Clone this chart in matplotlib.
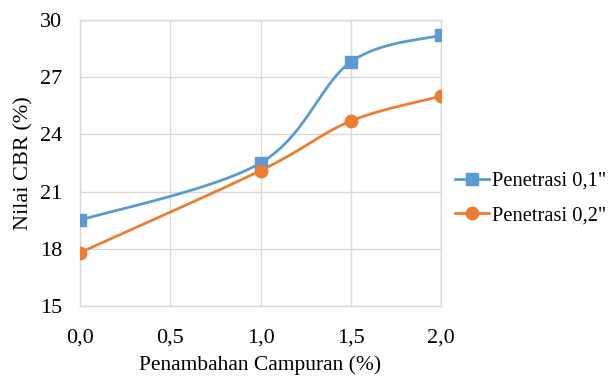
import numpy as np
import matplotlib
matplotlib.use("Agg")
import matplotlib.pyplot as plt
from matplotlib.ticker import FuncFormatter

# Data
campuran = [0.0, 1.0, 1.5, 2.0]
cbr_01 = [19.5, 22.5, 27.8, 29.2]
cbr_02 = [17.8, 22.1, 24.7, 26.0]
labels = ['Penetrasi 0,1"', 'Penetrasi 0,2"']
x_ticks = [0.0, 0.5, 1.0, 1.5, 2.0]
y_ticks = [15, 18, 21, 24, 27, 30]

BLUE = "#5B9BD5"
ORANGE = "#ED7D31"
GRID = "#D9D9D9"

plt.rcParams['font.family'] = ['Liberation Serif', 'DejaVu Serif']
plt.rcParams['font.size'] = 16

fig = plt.figure(figsize=(6.14, 3.76), dpi=100)
ax = fig.add_axes([80 / 614, 70 / 376, 361 / 614, 286 / 376])

XMIN, XMAX, YMIN, YMAX = 0.0, 2.0, 15, 30
W, H = 361.0, 286.0


def smooth(xs, ys, n=60):
    """Bezier smoothing through points, computed in screen-like units."""
    u = (np.asarray(xs) - XMIN) / (XMAX - XMIN) * W
    v = (np.asarray(ys) - YMIN) / (YMAX - YMIN) * H
    P = np.column_stack([u, v])
    k = len(P)
    out = []
    t = np.linspace(0, 1, n)[:, None]
    for i in range(k - 1):
        p0 = P[max(i - 1, 0)]
        p1 = P[i]
        p2 = P[i + 1]
        p3 = P[min(i + 2, k - 1)]
        c1 = p1 + (p2 - p0) / 6.0
        c2 = p2 - (p3 - p1) / 6.0
        seg = ((1 - t) ** 3) * p1 + 3 * ((1 - t) ** 2) * t * c1 \
            + 3 * (1 - t) * t ** 2 * c2 + t ** 3 * p2
        out.append(seg if i == 0 else seg[1:])
    S = np.vstack(out)
    sx = S[:, 0] / W * (XMAX - XMIN) + XMIN
    sy = S[:, 1] / H * (YMAX - YMIN) + YMIN
    return sx, sy


for ys, color, marker, ms, lab in [
    (cbr_01, BLUE, 's', 8, labels[0]),
    (cbr_02, ORANGE, 'o', 9, labels[1]),
]:
    sx, sy = smooth(campuran, ys)
    ax.plot(sx, sy, color=color, lw=2.0, solid_capstyle='round', zorder=3)
    ax.plot(campuran, ys, linestyle='none', marker=marker, ms=ms,
            color=color, zorder=4)
    ax.plot([], [], color=color, lw=2.0, marker=marker, ms=ms, label=lab)

ax.set_xlim(XMIN, XMAX)
ax.set_ylim(YMIN, YMAX)
ax.set_xticks(x_ticks)
ax.set_yticks(y_ticks)
ax.xaxis.set_major_formatter(FuncFormatter(lambda v, p: f"{v:.1f}".replace('.', ',')))
ax.yaxis.set_major_formatter(FuncFormatter(lambda v, p: f"{int(v)}"))
ax.tick_params(length=0)
ax.tick_params(axis='x', pad=16)
ax.tick_params(axis='y', pad=13)
ax.grid(True, color=GRID, lw=1.0)
ax.set_axisbelow(True)
for s in ax.spines.values():
    s.set_color(GRID)
    s.set_linewidth(1.0)

ax.set_xlabel("Penambahan Campuran (%)", fontsize=15.5)
ax.set_ylabel("Nilai CBR (%)", fontsize=16)
ax.xaxis.set_label_coords(0.5, (306 - 365) / 286, transform=ax.transAxes)
ax.xaxis.label.set_va('center')
ax.yaxis.set_label_coords((24 - 80) / 361, 0.5, transform=ax.transAxes)
ax.yaxis.label.set_va('center')

fig.legend(loc='center left', bbox_to_anchor=(455 / 614, (376 - 198.5) / 376),
           frameon=False, borderpad=0, borderaxespad=0, handlelength=1.65,
           handletextpad=0.15, labelspacing=0.75, fontsize=14.8)

fig.savefig("out.png", dpi=100)
